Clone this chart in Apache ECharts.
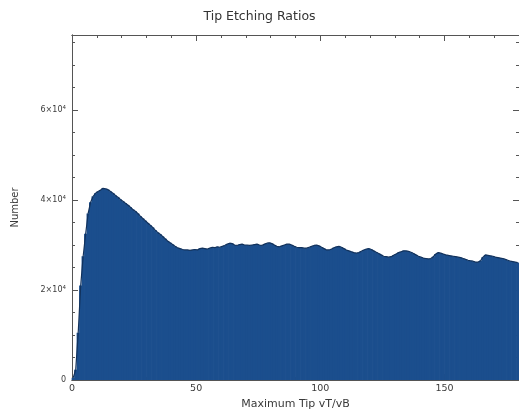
<!DOCTYPE html>
<html>
<head>
<meta charset="utf-8">
<script src="https://cdn.jsdelivr.net/npm/echarts@6/dist/echarts.min.js"></script>
<style>
html,body{margin:0;padding:0;background:#fff;}
#c{width:519px;height:415px;}
</style>
</head>
<body>
<div id="c"></div>
<script>
// Histogram bins: bin i covers [i, i+1) of "Maximum Tip vT/vB"
const binStarts = Array.from({length: 180}, (_, i) => i);
const counts = [
  500, 2300, 10500, 21000, 27500, 32500, 37000, 39500, 40800, 41500,
  41900, 42200, 42600, 42500, 42300, 41900, 41500, 41000, 40600, 40100,
  39700, 39300, 38900, 38400, 37900, 37500, 37000, 36400, 35900, 35400,
  34900, 34400, 33900, 33300, 32800, 32400, 31900, 31400, 30900, 30500,
  30100, 29700, 29400, 29200, 29000, 28900, 28900, 28800, 28900, 29000,
  28900, 29200, 29300, 29200, 29100, 29300, 29500, 29400, 29600, 29500,
  29700, 29900, 30200, 30400, 30300, 30000, 29900, 30100, 30200, 30000,
  30000, 29900, 30000, 30100, 30200, 30000, 29900, 30200, 30400, 30500,
  30300, 30000, 29700, 29600, 29800, 30000, 30200, 30200, 30000, 29700,
  29500, 29400, 29400, 29300, 29300, 29500, 29700, 29900, 30000, 29800,
  29500, 29200, 28900, 28900, 29100, 29400, 29600, 29700, 29500, 29200,
  28900, 28700, 28500, 28300, 28200, 28300, 28600, 28900, 29100, 29200,
  29000, 28700, 28400, 28100, 27800, 27500, 27400, 27300, 27400, 27700,
  28000, 28300, 28500, 28700, 28700, 28600, 28400, 28100, 27800, 27500,
  27300, 27100, 27000, 26900, 27000, 27400, 28000, 28300, 28200, 28000,
  27800, 27700, 27600, 27500, 27400, 27300, 27200, 27000, 26800, 26600,
  26500, 26400, 26200, 26200, 26500, 27300, 27800, 27700, 27600, 27500,
  27300, 27200, 27100, 27000, 26800, 26600, 26400, 26300, 26200, 26100
];
const binWidth = 1;
const xMin = 0, xMax = 180;
const yMin = 0, yMax = 76667;
const xMajorStep = 50, xMinorStep = 10;
const yMajorStep = 20000, yMinorStep = 5000;
const titleText = 'Tip Etching Ratios';
const xTitle = 'Maximum Tip vT/vB';
const yTitle = 'Number';

const barData = binStarts.map((s, i) => [s + binWidth / 2, counts[i]]);

const axisCol = '#555';
const txtCol = '#3a3a3a';
const FONT = 'DejaVu Sans';

function xAx(pos, step, len, labels) {
  return {
    type: 'value', position: pos, min: xMin, max: xMax, interval: step,
    axisLine: {show: true, onZero: false, lineStyle: {color: axisCol, width: 1}},
    axisTick: {show: true, inside: true, length: len, lineStyle: {color: axisCol}},
    axisLabel: {show: labels, color: txtCol, fontFamily: FONT, fontSize: 9.5, margin: 4, showMaxLabel: false},
    splitLine: {show: false},
    name: labels ? xTitle : '', nameLocation: 'middle', nameGap: 17,
    nameTextStyle: {color: txtCol, fontFamily: FONT, fontSize: 11}
  };
}
function yAx(pos, step, len, labels) {
  return {
    type: 'value', position: pos, min: yMin, max: yMax, interval: step,
    axisLine: {show: true, onZero: false, lineStyle: {color: axisCol, width: 1}},
    axisTick: {show: true, inside: true, length: len, lineStyle: {color: axisCol}},
    axisLabel: {
      show: labels, showMaxLabel: false, margin: 6,
      formatter: v => v === 0 ? '{m|0}' : '{m|' + (v / 10000) + '×10}{s|4}',
      rich: {
        m: {color: txtCol, fontFamily: FONT, fontSize: 8},
        s: {color: txtCol, fontFamily: FONT, fontSize: 5.5, verticalAlign: 'top', padding: [0, 0, 5, 0]}
      }
    },
    splitLine: {show: false},
    name: labels ? yTitle : '', nameLocation: 'middle', nameGap: 52, nameRotate: 90,
    nameTextStyle: {color: txtCol, fontFamily: FONT, fontSize: 10}
  };
}

const chart = echarts.init(document.getElementById('c'), null, {renderer: 'canvas'});
chart.setOption({
  backgroundColor: '#fff',
  animation: false,
  title: {
    text: titleText, left: 'center', top: 5,
    textStyle: {color: '#333', fontFamily: FONT, fontSize: 12.5, fontWeight: 'normal'}
  },
  grid: {left: 72, right: -3, top: 35, bottom: 35, containLabel: false},
  xAxis: [
    xAx('bottom', xMajorStep, 6, true),
    xAx('bottom', xMinorStep, 3, false),
    xAx('top', xMajorStep, 6, false),
    xAx('top', xMinorStep, 3, false)
  ],
  yAxis: [
    yAx('left', yMajorStep, 6, true),
    yAx('left', yMinorStep, 3, false),
    yAx('right', yMajorStep, 6, false),
    yAx('right', yMinorStep, 3, false)
  ],
  series: [
    {
      type: 'bar', xAxisIndex: 0, yAxisIndex: 0, data: barData,
      barWidth: 3.2, barGap: '-100%',
      itemStyle: {color: '#1b4e8d'}, z: 1
    },
    {
      type: 'line', xAxisIndex: 0, yAxisIndex: 0, data: barData,
      symbol: 'none', lineStyle: {color: '#12325c', width: 1.2}, z: 2
    }
  ]
});
</script>
</body>
</html>
